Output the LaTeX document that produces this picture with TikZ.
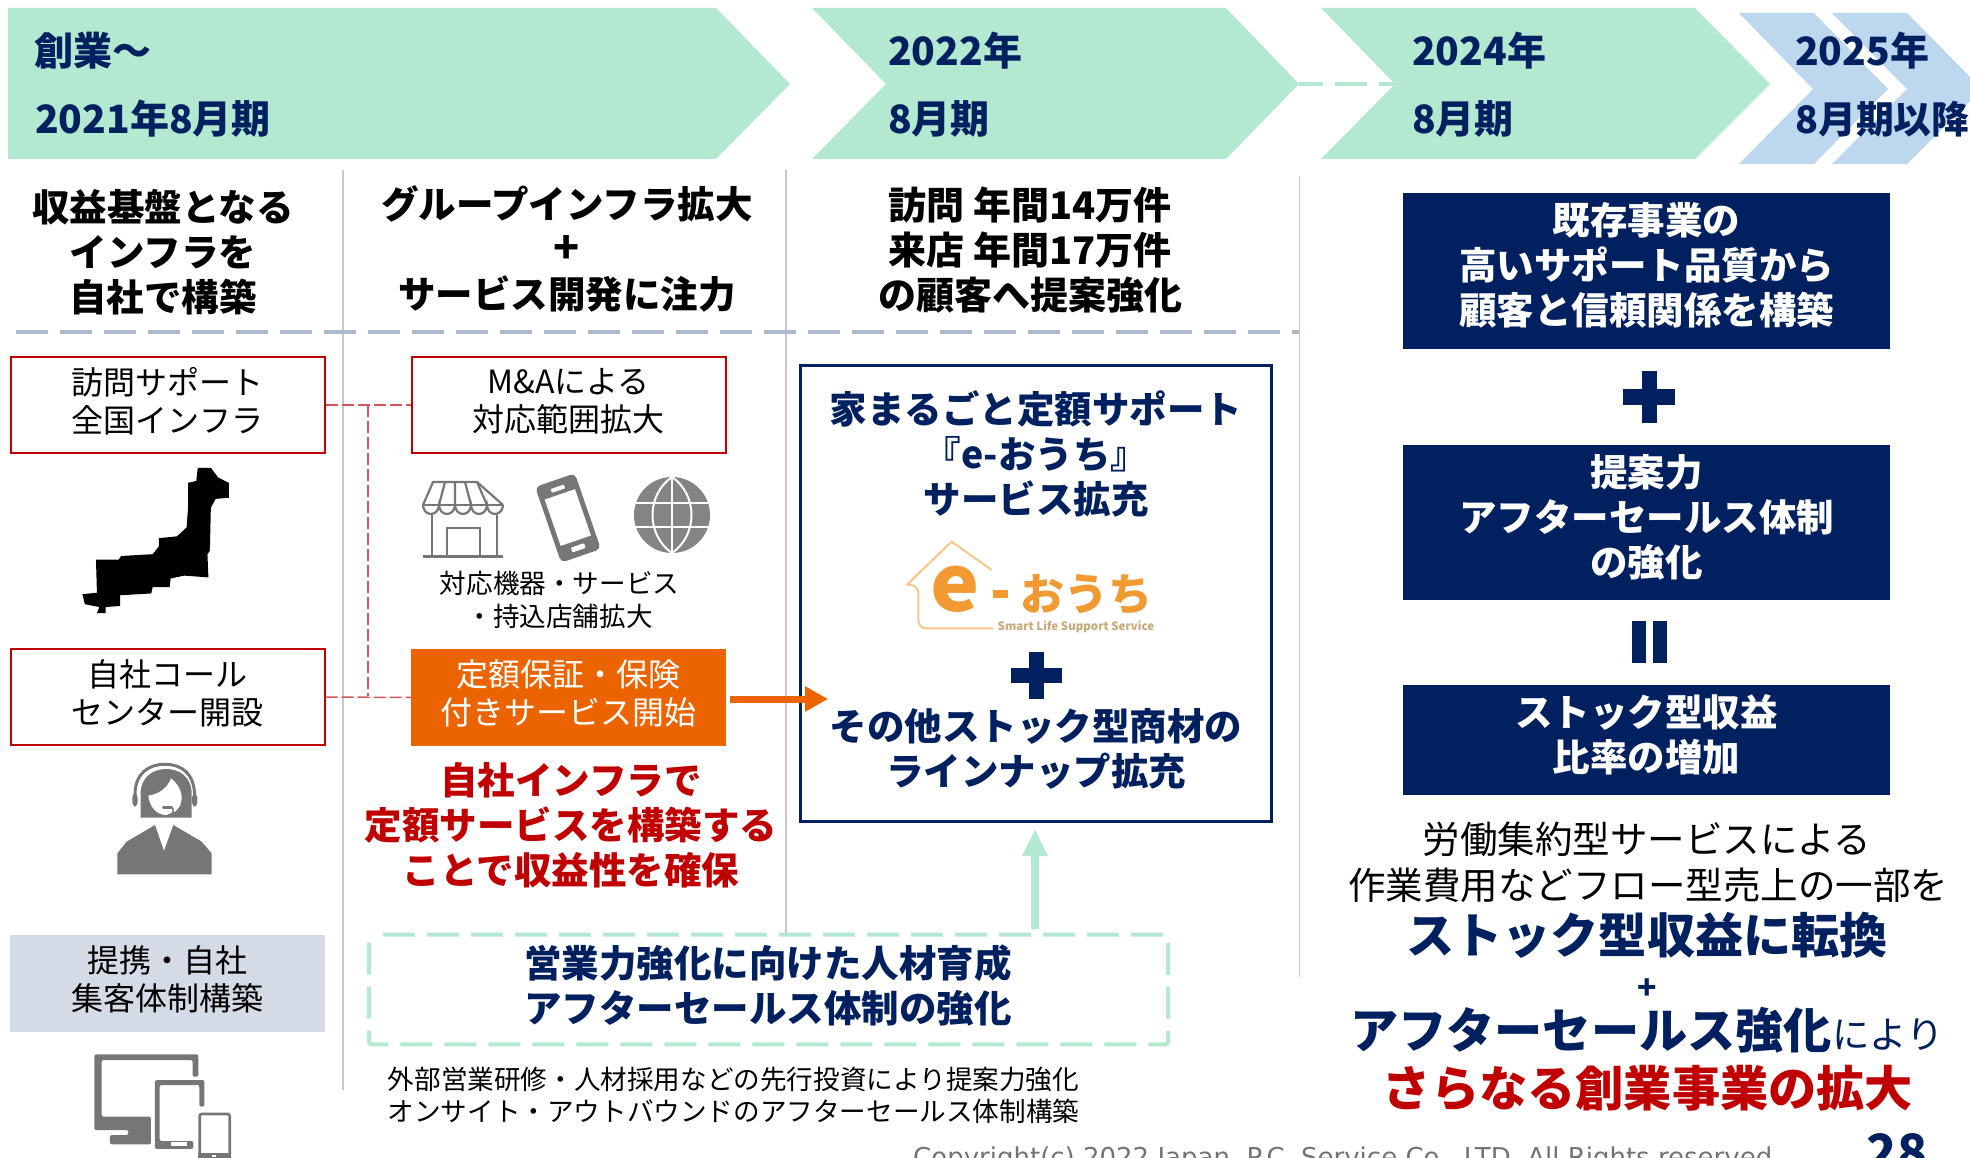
\documentclass[tikz,border=0pt]{standalone}
\usepackage{fontspec}
\setmainfont{Noto Sans CJK JP}
\newfontfamily\verd{DejaVu Sans}
\usetikzlibrary{arrows.meta,calc}
\newcommand\tf[2]{\fontsize{#1}{#2}\selectfont\lineskiplimit=-100pt\relax}
\definecolor{navy}{HTML}{002060}
\definecolor{rd}{HTML}{C00000}
\definecolor{org}{HTML}{EC6400}
\definecolor{grn}{HTML}{B3E9D0}
\definecolor{blu}{HTML}{BDD7EE}
\definecolor{ico}{HTML}{767676}
\definecolor{sep}{HTML}{C8C8C8}
\definecolor{lg}{HTML}{F29A32}
\definecolor{lgl}{HTML}{F7C68A}
\definecolor{lgt}{HTML}{C9A878}
\definecolor{dsh}{HTML}{AEB9CF}
\definecolor{tiebg}{HTML}{D5DBE6}
\definecolor{lnkc}{HTML}{D9545A}
\tikzset{
 txt/.style={inner sep=0pt,align=center},
 head/.style={inner sep=0pt,anchor=west,text=navy,font=\tf{39}{44}\bfseries},
 title/.style={txt,text=black,font=\tf{37.5}{45}\bfseries},
 redbox/.style={draw=rd,line width=2pt,fill=white,inner sep=0pt,minimum width=314pt,minimum height=96pt},
 lbl/.style={txt,text=black,font=\tf{32}{38}},
 navybox/.style={fill=navy,inner sep=0pt,minimum width=487pt},
 navylbl/.style={txt,text=white,font=\tf{37.5}{45}\bfseries},
 navytxt/.style={txt,text=navy,font=\tf{37.5}{45}\bfseries},
 redtxt/.style={txt,text=rd,font=\tf{37.5}{45}\bfseries},
 small/.style={txt,text=black,font=\tf{26.6}{33}},
 vsep/.style={draw=sep,line width=1.3pt},
 lnk/.style={draw=lnkc,line width=1.5pt,dash pattern=on 12pt off 4pt},
 grndash/.style={draw=grn,line width=4pt,dash pattern=on 32pt off 12pt},
}
\begin{document}
\begin{tikzpicture}[x=1pt,y=-1pt]
\clip (0,0) rectangle (1970,1158);
% chevrons
\fill[grn] (8,8) -- (716,8) -- (790,84) -- (716,159) -- (8,159) -- cycle;
\fill[grn] (812,8) -- (1226,8) -- (1299,84) -- (1226,159) -- (812,159) -- (886,84) -- cycle;
\fill[grn] (1321,8) -- (1695,8) -- (1770,84) -- (1695,159) -- (1321,159) -- (1395,84) -- cycle;
\fill[blu] (1739,13) -- (1814,13) -- (1888,89) -- (1814,164) -- (1739,164) -- (1813,89) -- cycle;
\fill[blu] (1832,13) -- (1907,13) -- (1982,89) -- (1907,164) -- (1832,164) -- (1907,89) -- cycle;
\coordinate (chevA) at (1299,84);
\coordinate (chevB) at (1395,84);
\draw[grndash,dash phase=8pt] (chevA) -- (chevB);
% head labels
\node[head] (h1a) at (34,51) {創業～};
\node[head] (h1b) at (35,119) {2021年8月期};
\node[head] (h2a) at (888,51) {2022年};
\node[head] (h2b) at (888,119) {8月期};
\node[head] (h3a) at (1412,51) {2024年};
\node[head] (h3b) at (1412,119) {8月期};
\node[head] (h4a) at (1795,51) {2025年};
\node[head,font=\tf{37.8}{44}\bfseries] (h4b) at (1795,119) {8月期以降};
% separators
\draw[vsep] (343,170) -- (343,1090);
\draw[vsep] (786,170) -- (786,934);
\draw[vsep] (1299.5,176) -- (1299.5,977);
\draw[draw=dsh,line width=4pt,dash pattern=on 32pt off 12pt] (16,332) -- (1299,332);
% titles
\node[title] (t1) at (163,252) {収益基盤となる\\インフラを\\自社で構築};
\node[title] (t2) at (567,249) {グループインフラ拡大\\{\tf{43}{45}+}\\サービス開発に注力};
\node[title,font=\tf{38}{45}\bfseries] (t3) at (1030,250) {訪問 年間14万件\\来店 年間17万件\\の顧客へ提案強化};
% left boxes
\node[redbox] (visit) at (167.5,405) {};
\node[lbl] (visitl) at ($(visit)+(0,-4)$) {訪問サポート\\全国インフラ};
\node[redbox] (call) at (167.5,697) {};
\node[lbl] (calll) at ($(call)+(0,-4)$) {自社コール\\センター開設};
\node[fill=tiebg,inner sep=0pt,minimum width=315pt,minimum height=97pt] (tie) at (167.5,983.5) {};
\node[lbl] (tiel) at ($(tie)+(0,-4)$) {提携・自社\\集客体制構築};
\node[redbox] (ma) at (568.5,405) {};
\node[lbl] (mal) at ($(ma)+(0,-4)$) {M\&Aによる\\対応範囲拡大};
\node[fill=org,inner sep=0pt,minimum width=315pt,minimum height=97pt] (fee) at (568.5,697.5) {};
\node[lbl,text=white] (feel) at ($(fee)+(0,-4)$) {定額保証・保険\\付きサービス開始};
% red dashed connectors
\coordinate (j1) at (368,405);
\coordinate (j2) at (368,696);
\draw[lnk] (visit.east) -- (ma.west);
\draw[lnk] (call.east) -- (fee.west);
\draw[lnk] (j1) -- (j2);
% Japan
\begin{scope}[shift={(0,340)},xscale=0.4847,yscale=0.357]
\fill[black] (408,358) -- (435,358) -- (450,385) -- (472,400) -- (472,442) -- (445,445) -- (435,470) -- (433,590) -- (428,600) -- (430,665) -- (380,660) -- (352,668) -- (350,692) -- (315,692) -- (312,710) -- (248,715) -- (248,745) -- (218,748) -- (218,765) -- (200,765) -- (205,748) -- (175,740) -- (170,712) -- (200,708) -- (198,615) -- (245,615) -- (250,605) -- (315,600) -- (328,578) -- (328,555) -- (365,550) -- (385,525) -- (388,470) -- (388,400) -- (405,395) -- cycle;
\end{scope}
% operator
\begin{scope}[shift={(90,755)},scale=0.3333]
\fill[ico] (82,358) -- (82,295) -- (110,260) -- (195,210) -- (222,288) -- (250,210) -- (335,260) -- (365,295) -- (365,358) -- cycle;
\fill[ico] (152,188) -- (152,110) .. controls (155,65) and (190,42) .. (228,42) .. controls (268,42) and (302,65) .. (305,110) -- (305,188) -- cycle;
\fill[white] (175,122) .. controls (205,118) and (232,100) .. (243,70) .. controls (262,85) and (275,105) .. (275,130) .. controls (275,155) and (255,178) .. (228,180) .. controls (200,180) and (178,155) .. (175,122) -- cycle;
\draw[ico,line width=3pt] (135,120) .. controls (135,55) and (175,28) .. (225,28) .. controls (275,28) and (312,55) .. (314,120);
\fill[ico,rounded corners=4pt] (127,115) rectangle (143,155);
\fill[ico,rounded corners=4pt] (306,115) rectangle (322,155);
\draw[ico,line width=2.5pt,line cap=round] (220,157) -- (245,157);
\draw[ico,line width=1.5pt] (245,157) .. controls (255,165) and (250,178) .. (235,180);
\end{scope}
% devices
\begin{scope}[shift={(85,1045)},scale=0.3333]
\fill[ico,rounded corners=2pt] (28,28) -- (340,28) -- (340,95) -- (323,95) -- (323,45) -- (50,45) -- (50,215) -- (198,215) -- (198,298) -- (75,298) -- (75,270) -- (130,270) -- (130,255) -- (28,255) -- cycle;
\fill[ico,rounded corners=2pt] (210,105) -- (358,105) -- (358,185) -- (343,185) -- (343,120) -- (224,120) -- (224,288) -- (325,288) -- (325,312) -- (210,312) -- cycle;
\fill[white] (258,292) rectangle (305,303);
\draw[ico,line width=2.7pt,rounded corners=2pt] (344,207) rectangle (434,345);
\fill[ico] (340,323) rectangle (438,345);
\fill[white] (382,329) rectangle (394,335);
\end{scope}
% shop
\begin{scope}[ico,line width=2.2pt]
\draw (432,515) -- (432,556) (497,515) -- (497,556);
\draw[line width=3pt] (423,556) -- (503,556);
\draw (447,556) -- (447,528) -- (480,528) -- (480,556);
\draw[line join=round] (423,505) -- (433,482) -- (477,482) -- (503,505);
\draw (423,505) arc[start angle=180,end angle=0,x radius=8,y radius=9]
 arc[start angle=180,end angle=0,x radius=8,y radius=9]
 arc[start angle=180,end angle=0,x radius=8,y radius=9]
 arc[start angle=180,end angle=0,x radius=8,y radius=9]
 arc[start angle=180,end angle=0,x radius=8,y radius=9];
\draw (423,505) -- (503,505);
\draw (439,505) -- (445,482) (455,505) -- (455,482) (471,505) -- (465,482) (487,505) -- (477,482);
\end{scope}
% phone
\begin{scope}[shift={(568,518)},rotate=19]
\fill[ico,rounded corners=5pt] (-21,-40) rectangle (21,40);
\fill[white] (-16,-25) rectangle (16,24);
\fill[white,rounded corners=1pt] (-7,-33) rectangle (7,-29);
\fill[white,rounded corners=1pt] (-7,29) rectangle (7,34);
\end{scope}
% globe
\begin{scope}[shift={(672,515)}]
\fill[ico!90!white] (0,0) circle[radius=38];
\draw[white,line width=2pt] (0,-38) -- (0,38) (-36,-12) -- (36,-12) (-36,12) -- (36,12);
\draw[white,line width=2pt] (0,-38) .. controls (-26,-20) and (-26,20) .. (0,38);
\draw[white,line width=2pt] (0,-38) .. controls (26,-20) and (26,20) .. (0,38);
\end{scope}
\node[small] (svc) at (559.5,599.5) {対応機器・サービス\\・持込店舗拡大};
\node[redtxt] (rtxt) at (571,825) {自社インフラで\\定額サービスを構築する\\ことで収益性を確保};
% blue box
\node[draw=navy,line width=3pt,minimum width=471pt,minimum height=456pt,inner sep=0pt] (bb) at (1036,593.5) {};
\node[navytxt] (b1) at (1036,453.5) {家まるごと定額サポート\\『e-おうち』\\サービス拡充};
\node[navytxt] (b2) at (1036,749) {その他ストック型商材の\\ラインナップ拡充};
% logo
\begin{scope}[shift={(780,350)},scale=0.3333]
\draw[lgl,line width=2pt,rounded corners=8pt] (640,835) -- (415,835) -- (415,705) -- (380,705);
\draw[lgl,line width=2pt] (380,705) -- (515,575) -- (635,660);
\fill[lg] (638,720) rectangle (685,745);
\end{scope}
\node[txt,text=lg,xscale=1.06,font=\tf{78}{78}\bfseries] (lge) at (955,589) {e};
\node[txt,text=lg,font=\tf{44}{44}\bfseries] (lgo) at (1086,594) {おうち};
\node[txt,text=lgt,font=\tf{11.5}{12}\bfseries] (lgs) at (1076,627) {Smart Life Support Service};
% plus in box
\fill[navy] (1029,652) rectangle (1044,699);
\fill[navy] (1011,668) rectangle (1062,683);
% orange arrow
\coordinate (oa) at (828,699);
\draw[org,line width=7pt,-{Triangle[length=23pt,width=24pt]}] ($(fee.east)+(4,1.5)$) -- (oa);
% training
\node[inner sep=0pt,minimum width=799pt,minimum height=109.5pt] (tr) at (768.5,989.5) {};
\draw[grndash,rounded corners=3pt] ($(tr.north west)+(0,8)$) -- (tr.south west) -- (tr.south east) -- (tr.north east) -- ($(tr.north west)+(4,0)$);
\node[navytxt] (trt) at (768,985) {営業力強化に向けた人材育成\\アフターセールス体制の強化};
\coordinate (ga) at (1035,829);
\draw[grn,line width=8pt,-{Triangle[length=27pt,width=24pt]}] (tr.north -| ga) ++(0,-6) -- (ga);
\node[small,font=\tf{26.6}{32}] (note) at (733.5,1095) {外部営業研修・人材採用などの先行投資により提案力強化\\オンサイト・アウトバウンドのアフターセールス体制構築};
% right column
\node[navybox,minimum height=156pt] (r1) at (1646.5,271) {};
\node[navylbl] (r1l) at ($(r1)+(0,-6)$) {既存事業の\\高いサポート品質から\\顧客と信頼関係を構築};
\node[navybox,minimum height=155pt] (r2) at (1646.5,522.5) {};
\node[navylbl] (r2l) at ($(r2)+(0,-5)$) {提案力\\アフターセールス体制\\の強化};
\node[navybox,minimum height=110pt] (r3) at (1646.5,740) {};
\node[navylbl] (r3l) at ($(r3)+(0,-5)$) {ストック型収益\\比率の増加};
\fill[navy] (1642,371) rectangle (1657,423);
\fill[navy] (1623,389) rectangle (1675,405);
\fill[navy] (1632,621) rectangle (1646,663);
\fill[navy] (1653,621) rectangle (1667,663);
\node[txt,font=\tf{37.5}{45}] (n1) at (1647,839) {労働集約型サービスによる};
\node[txt,font=\tf{37.5}{45}] (n2) at (1648,885) {作業費用などフロー型売上の一部を};
\node[txt,text=navy,font=\tf{48.2}{50}\bfseries] (n3) at (1647,935) {ストック型収益に転換};
\node[txt,text=navy,font=\tf{32}{32}\bfseries] (n4) at (1647,989) {+};
\node[txt,text=navy,font=\tf{48.2}{50}\bfseries] (n5) at (1647,1030) {アフターセールス強化{\tf{37.5}{45}\mdseries により}};
\node[txt,text=rd,font=\tf{48.2}{50}\bfseries] (n6) at (1648,1088) {さらなる創業事業の拡大};
% footer
\node[inner sep=0pt,anchor=base west,text=black!55,font=\verd\tf{26}{28}] (copy) at (913,1166.5) {Copyright(c) 2022 Japan\ \ P.C. Service Co., LTD. All Rights reserved.};
\node[inner sep=0pt,anchor=base,text=navy,font=\tf{50}{50}\bfseries] (pg) at (1897,1170) {28};
\end{tikzpicture}
\end{document}
